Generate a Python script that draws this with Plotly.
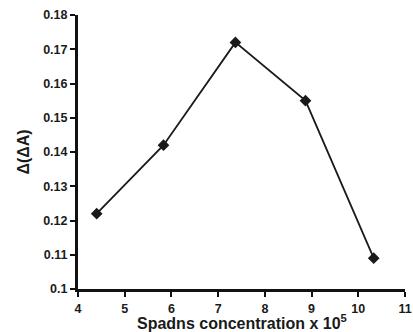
import plotly.graph_objects as go

conc = [4.4, 5.83, 7.37, 8.87, 10.33]
dda = [0.122, 0.142, 0.172, 0.155, 0.109]
x_ticks = [4, 5, 6, 7, 8, 9, 10, 11]
y_ticks = [0.10, 0.11, 0.12, 0.13, 0.14, 0.15, 0.16, 0.17, 0.18]
y_tick_text = ["0.1", "0.11", "0.12", "0.13", "0.14", "0.15", "0.16", "0.17", "0.18"]
x_title = "Spadns concentration x 10<sup>5</sup>"
y_title = "Δ(ΔA)"

fig = go.Figure()
fig.add_trace(go.Scatter(
    x=conc, y=dda, mode="lines+markers",
    line=dict(color="#1a1a1a", width=1.8),
    marker=dict(symbol="diamond", size=9, color="#1a1a1a"),
))

font_family = "Liberation Sans, Arial, sans-serif"
fig.update_layout(
    width=413, height=332,
    margin=dict(l=78, r=8, t=15, b=43),
    paper_bgcolor="white", plot_bgcolor="white",
    showlegend=False,
    font=dict(family=font_family, color="#1a1a1a"),
)
fig.update_xaxes(
    range=[4, 11], tickvals=x_ticks, ticktext=[str(v) for v in x_ticks],
    showgrid=False, zeroline=False, showline=True, linecolor="#111", linewidth=3,
    ticks="outside", ticklen=5, tickwidth=2, tickcolor="#111",
    ticklabelstandoff=1, automargin=False,
    tickfont=dict(size=12.5, family=font_family, weight="bold", color="#1a1a1a"),
)
fig.update_yaxes(
    range=[0.1, 0.18], tickvals=y_ticks, ticktext=y_tick_text,
    showgrid=False, zeroline=False, showline=True, linecolor="#111", linewidth=3,
    ticks="outside", ticklen=5, tickwidth=2, tickcolor="#111", automargin=False,
    tickfont=dict(size=12.5, family=font_family, weight="bold", color="#1a1a1a"),
    title=dict(text=y_title, font=dict(size=16, family=font_family, weight="bold", color="#1a1a1a"), standoff=10),
)
fig.add_annotation(
    text=x_title, xref="paper", yref="paper", x=0.5, y=-0.16,
    xanchor="center", yanchor="bottom", showarrow=False, borderpad=0,
    font=dict(size=16, family=font_family, weight="bold", color="#1a1a1a"),
)
fig.write_html("out.html")
